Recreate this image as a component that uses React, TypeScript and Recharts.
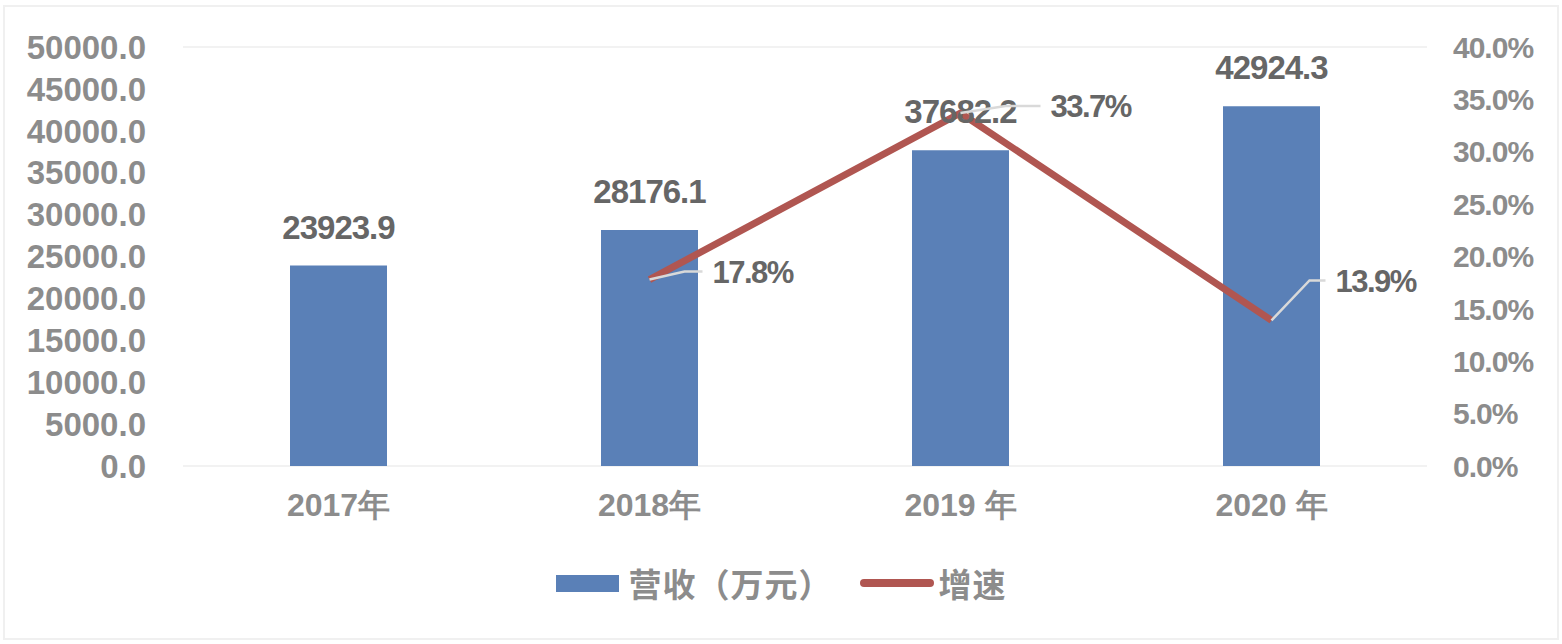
import React from 'react'
import {
  ComposedChart,
  Bar,
  Line,
  XAxis,
  YAxis,
  CartesianGrid,
  Legend,
  LabelList
} from 'recharts'

const years = ['2017年', '2018年', '2019 年', '2020 年']
const revenue = [23923.9, 28176.1, 37682.2, 42924.3]
const growth = [null, 0.178, 0.337, 0.139]
const leftTicks = [0, 5000, 10000, 15000, 20000, 25000, 30000, 35000, 40000, 45000, 50000]
const rightTicks = [0, 0.05, 0.1, 0.15, 0.2, 0.25, 0.3, 0.35, 0.4]

const data = years.map((name, i) => ({ name, revenue: revenue[i], growth: growth[i] }))

const BAR = '#5a80b7'
const LINE = '#b05651'
const AXIS_TEXT = '#8c8c8c'
const LABEL_TEXT = '#666666'
const FONT = "'Liberation Sans', Arial, sans-serif"

// leader offsets for the growth labels, per point
const leaderOffsets: Record<number, { bx: number; by: number; ex: number; tx: number }> = {
  1: { bx: 35, by: -8, ex: 53, tx: 63 },
  2: { bx: 45, by: -7, ex: 80, tx: 90 },
  3: { bx: 38, by: -40, ex: 54, tx: 64 }
}

const GrowthLabel = (props: any) => {
  const { x, y, value, index } = props
  if (value == null) return null
  const o = leaderOffsets[index] || { bx: 30, by: -8, ex: 50, tx: 60 }
  return (
    <g>
      <path
        d={`M${x},${y} L${x + o.bx},${y + o.by} L${x + o.ex},${y + o.by}`}
        stroke="#d9d9d9"
        strokeWidth={2.5}
        fill="none"
      />
      <text
        x={x + o.tx}
        y={y + o.by}
        dy="0.36em"
        fill={LABEL_TEXT}
        fontSize={31}
        fontWeight="bold"
        fontFamily={FONT}
        letterSpacing={-1.5}
      >
        {`${(value * 100).toFixed(1)}%`}
      </text>
    </g>
  )
}

const renderLegend = () => (
  <div
    style={{
      display: 'flex',
      justifyContent: 'center',
      alignItems: 'center',
      height: 78,
      paddingTop: 16,
      boxSizing: 'border-box',
      fontFamily: "'Noto Sans CJK SC', sans-serif",
      fontSize: 33,
      letterSpacing: 1,
      fontWeight: 'bold',
      color: AXIS_TEXT
    }}
  >
    <span style={{ display: 'inline-block', width: 63, height: 17, background: BAR, marginRight: 10 }} />
    <span style={{ marginRight: 27 }}>营收（万元）</span>
    <span
      style={{ display: 'inline-block', width: 74, height: 8, borderRadius: 4, background: LINE, marginRight: 5 }}
    />
    <span>增速</span>
  </div>
)

export default function App() {
  return (
    <div style={{ position: 'absolute', left: 0, top: 0, width: 1562, height: 644, background: '#fff' }}>
      <div
        style={{
          position: 'absolute',
          left: 3,
          top: 5,
          width: 1552,
          height: 631,
          border: '2px solid #f0f0f0'
        }}
      />
      <ComposedChart
        width={1562}
        height={644}
        data={data}
        margin={{ top: 47, right: 0, left: 0, bottom: 30 }}
        barSize={97}
      >
        <CartesianGrid vertical={false} stroke="#f2f2f2" strokeWidth={2} />
        <XAxis
          dataKey="name"
          axisLine={false}
          tickLine={false}
          tickSize={0}
          tickMargin={27}
          height={70}
          tick={{ fill: AXIS_TEXT, fontSize: 32, fontWeight: 'bold', fontFamily: FONT }}
        />
        <YAxis
          yAxisId="left"
          orientation="left"
          width={183}
          domain={[0, 50000]}
          ticks={leftTicks}
          interval={0}
          axisLine={false}
          tickLine={false}
          tickSize={0}
          tickMargin={37}
          tickFormatter={(v: number) => v.toFixed(1)}
          tick={{ fill: AXIS_TEXT, fontSize: 33, fontWeight: 'bold', fontFamily: FONT }}
        />
        <YAxis
          yAxisId="right"
          orientation="right"
          width={135}
          domain={[0, 0.4]}
          ticks={rightTicks}
          interval={0}
          axisLine={false}
          tickLine={false}
          tickSize={0}
          tickMargin={26}
          tickFormatter={(v: number) => `${(v * 100).toFixed(1)}%`}
          tick={{ fill: AXIS_TEXT, fontSize: 30, fontWeight: 'bold', fontFamily: FONT, letterSpacing: -1 }}
        />
        <Legend verticalAlign="bottom" height={78} content={renderLegend} />
        <Bar yAxisId="left" dataKey="revenue" name="营收（万元）" fill={BAR} isAnimationActive={false}>
          <LabelList
            dataKey="revenue"
            position="top"
            offset={27}
            formatter={(v: any) => Number(v).toFixed(1)}
            fill={LABEL_TEXT}
            fontSize={33}
            fontWeight="bold"
            fontFamily={FONT}
            letterSpacing={-1}
          />
        </Bar>
        <Line
          yAxisId="right"
          dataKey="growth"
          name="增速"
          stroke={LINE}
          strokeWidth={7}
          dot={false}
          activeDot={false}
          isAnimationActive={false}
        >
          <LabelList dataKey="growth" content={<GrowthLabel />} />
        </Line>
      </ComposedChart>
    </div>
  )
}
